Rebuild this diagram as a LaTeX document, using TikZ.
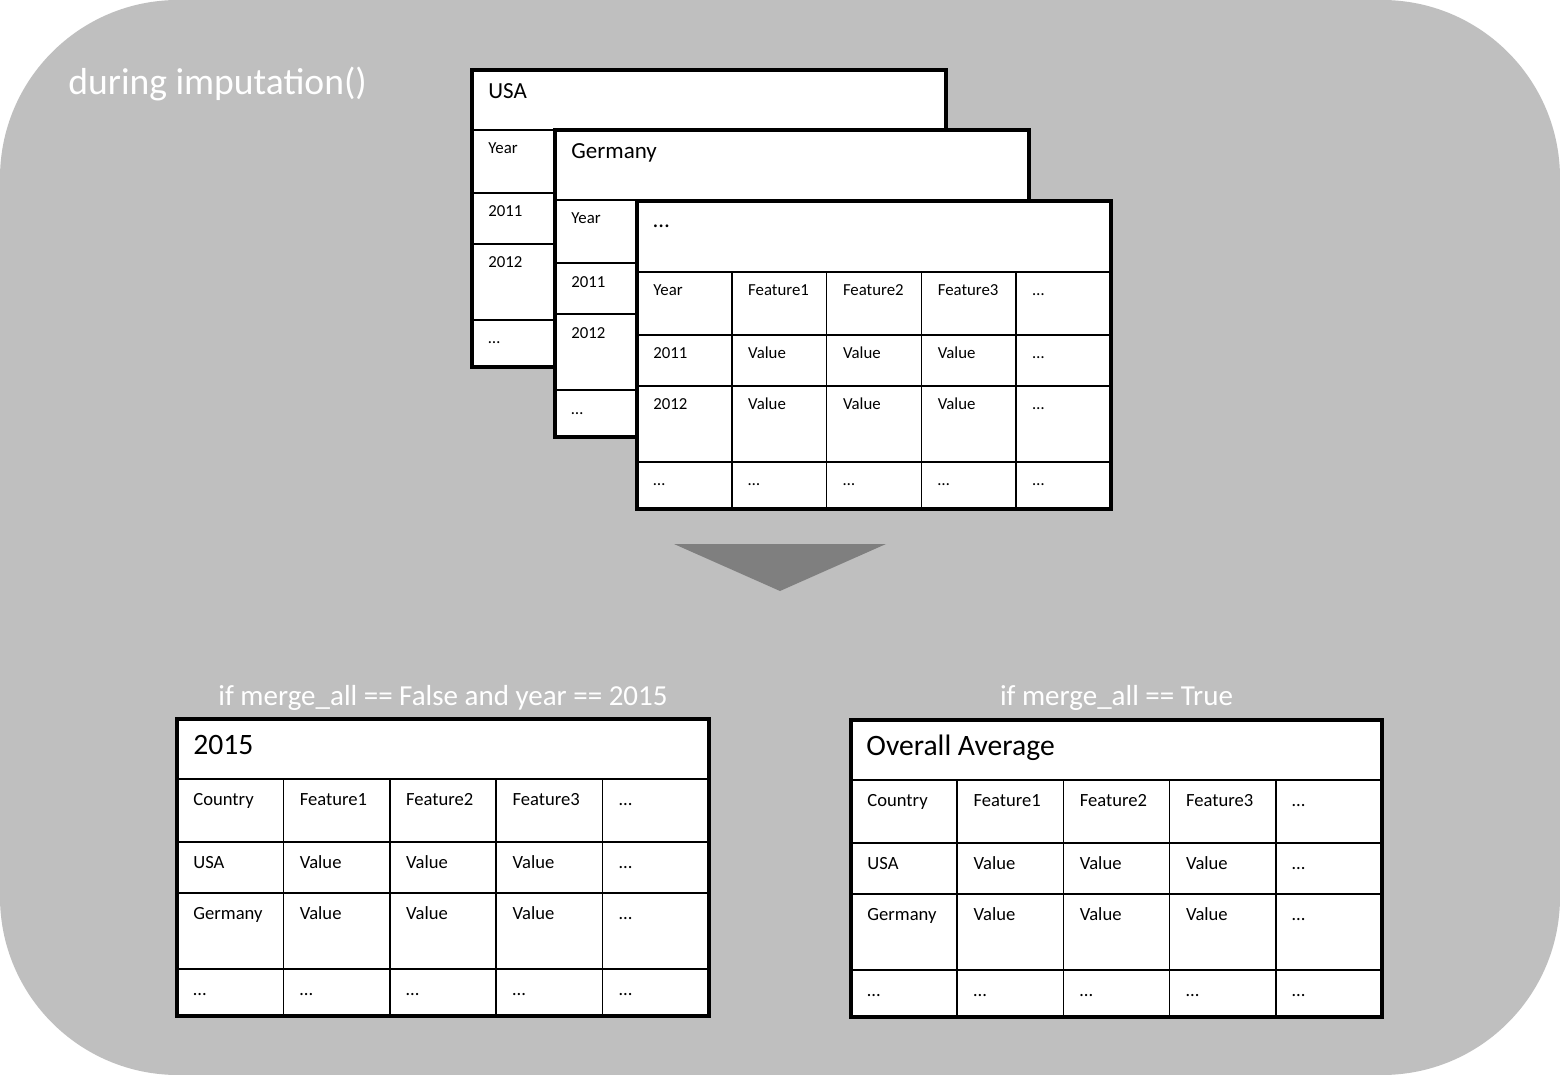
\documentclass[tikz,border=0pt]{standalone}
\usepackage{fontspec}
\setmainfont{Carlito}
\usepackage{tikz}
\usepackage{xcolor}
\usetikzlibrary{positioning}

\definecolor{bggray}{RGB}{191,191,191}
\definecolor{arrowgray}{RGB}{127,127,127}

\tikzset{
    frame/.style={draw=black, line width=1.7pt},
    gridline/.style={draw=black, line width=0.8pt},
    smallcell/.style={anchor=base west, inner sep=0pt, font=\fontsize{8.4}{10}\selectfont},
    bigcell/.style={anchor=base west, inner sep=0pt, font=\fontsize{9.3}{11}\selectfont},
    smalltitle/.style={anchor=base west, inner sep=0pt, font=\fontsize{11.5}{14}\selectfont},
    bigtitle/.style={anchor=base west, inner sep=0pt, font=\fontsize{14.8}{18}\selectfont},
    caption/.style={anchor=base, inner sep=0pt, text=white, font=\fontsize{14.5}{17}\selectfont}
}

% frame of one sheet: left, top, column width, title height
\newcommand{\sheetframe}[4]{%
    \fill[white] (#1,#2) rectangle ({#1+5*#3},{#2+#4+237});
    \foreach \dy in {0,63,114,190}
        \draw[gridline] (#1,{#2+#4+\dy}) -- ({#1+5*#3},{#2+#4+\dy});
    \foreach \c in {1,...,4}
        \draw[gridline] ({#1+\c*#3},{#2+#4}) -- ({#1+\c*#3},{#2+#4+237});
    \draw[frame] (#1,#2) rectangle ({#1+5*#3},{#2+#4+237});
}

% one row of cell texts: name, left, baseline, column width, style, entries
\newcommand{\sheetrow}[6]{%
    \foreach \txt [count=\c from 0] in {#6}
        \node[#5] (#1-\c) at ({#2+16+\c*#4},#3) {\txt};
}

\begin{document}
\begin{tikzpicture}[x=0.5pt, y=-0.5pt]
    \useasboundingbox (0,0) rectangle (1560,1075);
    \fill[bggray, rounded corners=89pt] (0,0) rectangle (1560,1075);

    \node[anchor=base west, inner sep=0pt, text=white, font=\fontsize{18.8}{22}\selectfont] (during) at (68,95) {during imputation()};

    % sheet per country
    \sheetframe{472}{70}{94.8}{60}
    \node[smalltitle] (usa) at (488,99) {USA};
    \node[smallcell] (usa-0) at (488,154) {Year};
    \node[smallcell] (usa-1) at (488,217) {2011};
    \node[smallcell] (usa-2) at (488,268) {2012};
    \node[smallcell] (usa-3) at (488,344) {…};

    \sheetframe{555}{130}{94.8}{70}
    \node[smalltitle] (ger) at (571,159) {Germany};
    \node[smallcell] (ger-0) at (571,224) {Year};
    \node[smallcell] (ger-1) at (571,288) {2011};
    \node[smallcell] (ger-2) at (571,339) {2012};
    \node[smallcell] (ger-3) at (571,415) {…};

    \sheetframe{637}{201}{94.8}{71}
    \node[smalltitle] (more) at (653,228) {…};
    \sheetrow{more-h}{637}{296}{94.8}{smallcell}{Year,Feature1,Feature2,Feature3,…}
    \sheetrow{more-a}{637}{359}{94.8}{smallcell}{2011,Value,Value,Value,…}
    \sheetrow{more-b}{637}{410}{94.8}{smallcell}{2012,Value,Value,Value,…}
    \sheetrow{more-c}{637}{486}{94.8}{smallcell}{…,…,…,…,…}

    \fill[arrowgray] (674,544) -- (886,544) -- (780,591) -- cycle;

    % merged results
    \node[caption] (cond-year) at (443,705) {if merge\_all == False and year == 2015};
    \sheetframe{177}{719}{106.4}{60}
    \node[bigtitle] (year) at (193,754) {2015};
    \sheetrow{year-h}{177}{805}{106.4}{bigcell}{Country,Feature1,Feature2,Feature3,…}
    \sheetrow{year-a}{177}{868}{106.4}{bigcell}{USA,Value,Value,Value,…}
    \sheetrow{year-b}{177}{919}{106.4}{bigcell}{Germany,Value,Value,Value,…}
    \sheetrow{year-c}{177}{995}{106.4}{bigcell}{…,…,…,…,…}

    \node[caption] (cond-all) at (1116.5,705) {if merge\_all == True};
    \sheetframe{851}{720}{106.2}{60}
    \node[bigtitle] (avg) at (866,755) {Overall Average};
    \sheetrow{avg-h}{851}{806}{106.2}{bigcell}{Country,Feature1,Feature2,Feature3,…}
    \sheetrow{avg-a}{851}{869}{106.2}{bigcell}{USA,Value,Value,Value,…}
    \sheetrow{avg-b}{851}{920}{106.2}{bigcell}{Germany,Value,Value,Value,…}
    \sheetrow{avg-c}{851}{996}{106.2}{bigcell}{…,…,…,…,…}
\end{tikzpicture}
\end{document}
